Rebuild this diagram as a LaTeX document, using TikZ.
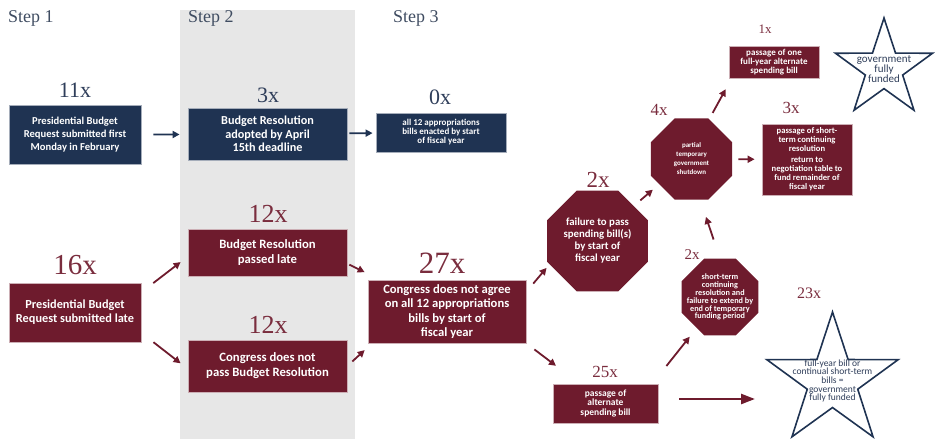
\documentclass[tikz,border=0pt]{standalone}
\usepackage{fontspec}
\setmainfont{Liberation Serif}
\setsansfont{Carlito}
\usetikzlibrary{shapes.geometric,arrows.meta}

\definecolor{navy}{HTML}{1F3352}
\definecolor{maroon}{HTML}{6E1B2D}
\definecolor{bandgrey}{HTML}{E7E7E7}
\definecolor{steptext}{HTML}{3F4C61}
\definecolor{navytext}{HTML}{2F3E5A}
\definecolor{maroontext}{HTML}{7A2D3E}

\newcommand{\boxfont}[2]{\sffamily\bfseries\fontsize{#1}{#2}\selectfont}
\newcommand{\starfont}[2]{\sffamily\fontsize{#1}{#2}\selectfont}
\newcommand{\countfont}[1]{\fontsize{#1}{#1}\selectfont}

\begin{document}
\begin{tikzpicture}[x=1pt,y=-1pt,
	box/.style={rectangle,inner sep=0pt,align=center,text=white,line width=0.8pt},
	blue_box/.style={box,fill=navy,draw=navy!40},
	red_box/.style={box,fill=maroon,draw=maroon!35},
	red_oct/.style={regular polygon,regular polygon sides=8,fill=maroon,inner sep=0pt,align=center,text=white},
	fund_star/.style={star,star points=5,star point ratio=2.6,draw=navy,line width=1.6pt,fill=white,inner sep=0pt},
	star_text/.style={align=center,text=navytext,inner sep=0pt},
	step_label/.style={anchor=west,text=steptext,inner sep=0pt,font=\countfont{18}},
	count_blue/.style={text=navytext,inner sep=0pt},
	count_red/.style={text=maroontext,inner sep=0pt},
	arr_blue/.style={draw=navy,line width=1.8pt,-{Triangle[length=7pt,width=7pt]}},
	arr_red/.style={draw=maroon,line width=1.8pt,-{Triangle[length=7pt,width=7pt]}}]
	\useasboundingbox (0,0) rectangle (951,439);
	\fill[bandgrey] (180,10) rectangle (355,439);

	\node[step_label] (step_one) at (8,18) {Step 1};
	\node[step_label] (step_two) at (188,18) {Step 2};
	\node[step_label] (step_three) at (393,18) {Step 3};

	% on-time path
	\node[blue_box,minimum width=132pt,minimum height=59pt,font=\boxfont{10.6}{13}] (reqfirst) at (75,135) {Presidential Budget\\Request submitted first\\Monday in February};
	\node[blue_box,minimum width=159pt,minimum height=52pt,font=\boxfont{12.2}{13.5}] (resapril) at (267.5,134) {Budget Resolution\\adopted by April\\15th deadline};
	\node[blue_box,minimum width=130pt,minimum height=39pt,font=\boxfont{9}{9}] (allbills) at (441,132.5) {all 12 appropriations\\bills enacted by start\\of fiscal year};
	\node[count_blue,font=\countfont{22}] (c_reqfirst) at (75,90) {11x};
	\node[count_blue,font=\countfont{22}] (c_resapril) at (268,95) {3x};
	\node[count_blue,font=\countfont{22}] (c_allbills) at (440,97) {0x};

	% late path
	\node[red_box,minimum width=132pt,minimum height=59pt,font=\boxfont{12.3}{14}] (reqlate) at (75,312.5) {Presidential Budget\\Request submitted late};
	\node[red_box,minimum width=159pt,minimum height=47pt,font=\boxfont{12.7}{15}] (reslate) at (267.5,252.5) {Budget Resolution\\passed late};
	\node[red_box,minimum width=159pt,minimum height=52pt,font=\boxfont{12.7}{15}] (nores) at (267.5,366) {Congress does not\\pass Budget Resolution};
	\node[red_box,minimum width=158pt,minimum height=63pt,font=\boxfont{12.6}{14.5}] (noagree) at (447,311.5) {Congress does not agree\\on all 12 appropriations\\bills by start of\\fiscal year};
	\node[count_red,font=\countfont{29}] (c_reqlate) at (75,265) {16x};
	\node[count_red,font=\countfont{26}] (c_reslate) at (268,214) {12x};
	\node[count_red,font=\countfont{26}] (c_nores) at (268,325) {12x};
	\node[count_red,font=\countfont{31}] (c_noagree) at (442,263) {27x};

	% outcomes
	\node[red_oct,minimum size=109pt,font=\boxfont{10.8}{12}] (failpass) at (597.5,241) {failure to pass\\spending bill(s)\\by start of\\fiscal year};
	\node[red_oct,minimum size=88pt,font=\boxfont{7}{9}] (shutdown) at (691.5,159) {partial\\temporary\\government\\shutdown};
	\node[red_oct,minimum size=83pt,inner sep=-8pt,font=\boxfont{8.2}{7.9}] (extendfail) at (720,297) {short-term\\continuing\\resolution and\\failure to extend by\\end of temporary\\funding period};
	\node[red_box,minimum width=90pt,minimum height=32pt,font=\boxfont{9}{9}] (onebill) at (774,62) {passage of one\\full-year alternate\\spending bill};
	\node[red_box,minimum width=90pt,minimum height=71pt,font=\boxfont{8.6}{9}] (shortterm) at (807,159.5) {passage of short-\\term continuing\\resolution\\[2pt]return to\\negotiation table to\\fund remainder of\\fiscal year};
	\node[red_box,minimum width=105pt,minimum height=39pt,font=\boxfont{9.5}{10}] (altbill) at (605.5,403.5) {passage of\\alternate\\spending bill};
	\node[fund_star,minimum size=102pt,label={[star_text,font=\starfont{11}{10}]center:{government\\fully\\funded}}] (smallstar) at (884,69) {};
	\node[fund_star,minimum size=138pt,label={[star_text,font=\starfont{9.5}{8.6}]center:{full-year bill or\\continual short-term\\bills =\\government\\fully funded}}] (bigstar) at (832.5,381) {};
	\node[count_red,font=\countfont{23}] (c_failpass) at (598,180) {2x};
	\node[count_red,font=\countfont{17}] (c_shutdown) at (659,110) {4x};
	\node[count_red,font=\countfont{13}] (c_onebill) at (765,29) {1x};
	\node[count_red,font=\countfont{17}] (c_shortterm) at (791,108) {3x};
	\node[count_red,font=\countfont{15}] (c_extendfail) at (692,255) {2x};
	\node[count_red,font=\countfont{17}] (c_altbill) at (605,372) {25x};
	\node[count_red,font=\countfont{16}] (c_bigstar) at (809,293) {23x};

	\draw[arr_blue,shorten <=12pt,shorten >=8pt] (reqfirst) -- (resapril);
	\draw[arr_blue,shorten <=2pt,shorten >=3pt] (resapril) -- (allbills);
	\draw[arr_red,shorten <=15pt,shorten >=8.8pt] (reqlate.17) -- (reslate.183);
	\draw[arr_red,shorten <=15.3pt,shorten >=8.9pt] (reqlate.-17) -- (nores.182.5);
	\draw[arr_red,shorten <=2.2pt,shorten >=3.3pt] (reslate.-8) -- ([yshift=6pt]noagree.north west);
	\draw[arr_red,shorten <=6.7pt,shorten >=4pt] (nores.east) -- ([yshift=-4pt]noagree.south west);
	\draw[arr_red,shorten <=10.6pt,shorten >=4.5pt] (noagree.14.5) -- (failpass.206);
	\draw[arr_red,shorten <=8.5pt,shorten >=8.2pt] (failpass.44.5) -- (shutdown.218.4);
	\draw[arr_red,shorten <=7pt,shorten >=12.3pt] (shutdown.66) -- ([xshift=3pt]onebill.south west);
	\draw[arr_red,shorten <=6pt,shorten >=7pt] (shutdown) -- (shortterm);
	\draw[arr_red,shorten <=10pt,shorten >=29.5pt] (noagree.south east) -- ([xshift=-26pt]altbill.north);
	\draw[arr_red,shorten <=22.5pt,shorten >=11pt] (altbill.23.5) -- (extendfail.233);
	\draw[arr_red,shorten <=20pt,shorten >=18pt] (extendfail.north) -- (shutdown.282);
	\draw[arr_red,line width=2.5pt,-{Triangle[length=14pt,width=10pt]},shorten <=21pt,shorten >=77.5pt] ([yshift=4.5pt]altbill.east) -- ([yshift=4.5pt]altbill.east -| bigstar);
\end{tikzpicture}
\end{document}
